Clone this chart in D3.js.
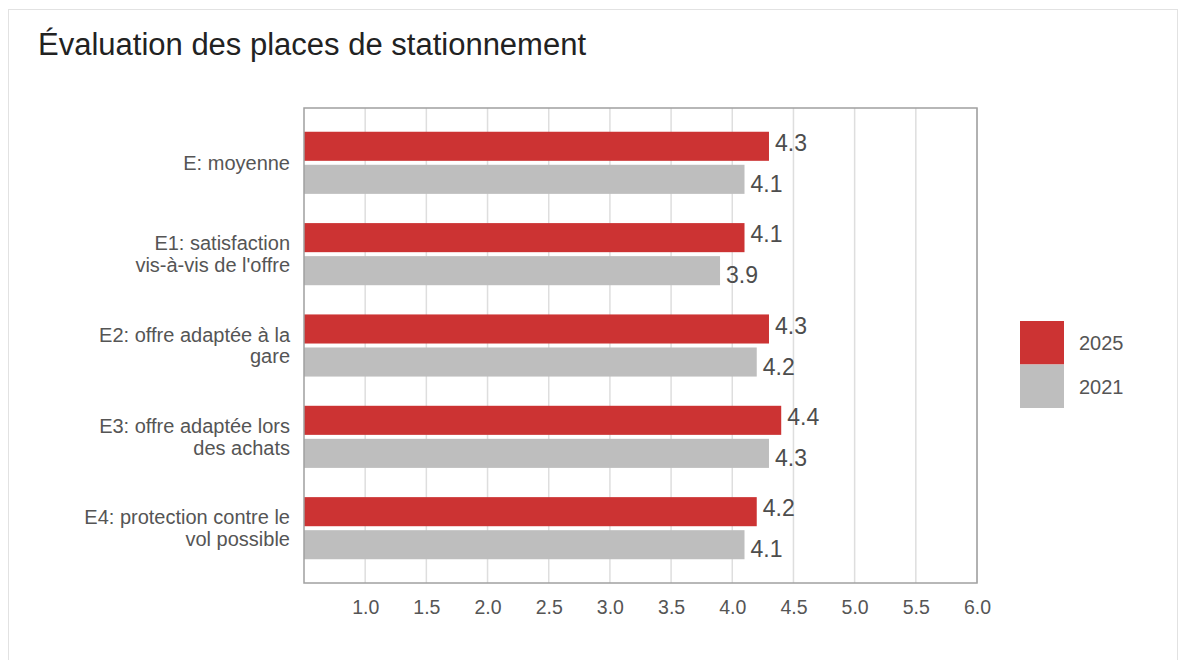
<!DOCTYPE html>
<html>
<head>
<meta charset="utf-8">
<script src="https://d3js.org/d3.v7.min.js"></script>
<style>
  body { margin: 0; background: #fff; }
  text { font-family: "Liberation Sans", Arial, sans-serif; }
</style>
</head>
<body>
<div id="chart"></div>
<script>
// data
var categories = [
  ["E: moyenne"],
  ["E1: satisfaction", "vis-à-vis de l'offre"],
  ["E2: offre adaptée à la", "gare"],
  ["E3: offre adaptée lors", "des achats"],
  ["E4: protection contre le", "vol possible"]
];
var years = ["2025", "2021"];
var values2025 = [4.3, 4.1, 4.3, 4.4, 4.2];
var values2021 = [4.1, 3.9, 4.2, 4.3, 4.1];
var xTicks = [1.0, 1.5, 2.0, 2.5, 3.0, 3.5, 4.0, 4.5, 5.0, 5.5, 6.0];
var colors = {"2025": "#cc3333", "2021": "#bebebe"};

var W = 1179, H = 660;
var plot = {left: 304, right: 977, top: 108, bottom: 583};

var svg = d3.select("#chart")
  .append("svg")
    .attr("width", W)
    .attr("height", H);

// outer frame
svg.append("rect")
  .attr("x", 8.5).attr("y", 9.5)
  .attr("width", 1169).attr("height", 670)
  .attr("fill", "none")
  .attr("stroke", "#e2e2e2");

// title
svg.append("text")
  .attr("x", 38).attr("y", 55)
  .attr("font-size", "31px")
  .attr("fill", "#222")
  .text("Évaluation des places de stationnement");

var keys = categories.map(function(d, i) { return "c" + i; });

var x = d3.scaleLinear()
  .domain([0.5, 6.0])
  .range([plot.left, plot.right]);

var y = d3.scaleBand()
  .domain(keys)
  .range([plot.top, plot.bottom])
  .paddingInner(0.32)
  .paddingOuter(0.26);

var y1 = d3.scaleBand()
  .domain(years)
  .range([0, y.bandwidth()])
  .paddingInner(0.12);

// grid lines
svg.selectAll(".grid")
  .data(xTicks)
  .enter()
  .append("line")
    .attr("x1", function(d) { return x(d); })
    .attr("x2", function(d) { return x(d); })
    .attr("y1", plot.top)
    .attr("y2", plot.bottom)
    .attr("stroke", "#dedede")
    .attr("stroke-width", 1.5);

// bars
var rows = [];
keys.forEach(function(k, i) {
  rows.push({key: k, year: "2025", value: values2025[i]});
  rows.push({key: k, year: "2021", value: values2021[i]});
});

svg.selectAll(".bar")
  .data(rows)
  .enter()
  .append("rect")
    .attr("x", x(0.5))
    .attr("y", function(d) { return y(d.key) + y1(d.year); })
    .attr("width", function(d) { return x(d.value) - x(0.5); })
    .attr("height", y1.bandwidth())
    .attr("fill", function(d) { return colors[d.year]; });

// value labels
svg.selectAll(".val")
  .data(rows)
  .enter()
  .append("text")
    .attr("x", function(d) { return x(d.value) + 6; })
    .attr("y", function(d) { return y(d.key) + y1(d.year) + y1.bandwidth() / 2; })
    .attr("dy", function(d) { return d.year == "2025" ? "0.2em" : "0.55em"; })
    .attr("font-size", "23px")
    .attr("fill", "#4d4d4d")
    .text(function(d) { return d3.format(".1f")(d.value); });

// plot border
svg.append("rect")
  .attr("x", plot.left).attr("y", plot.top)
  .attr("width", plot.right - plot.left)
  .attr("height", plot.bottom - plot.top)
  .attr("fill", "none")
  .attr("stroke", "#a0a0a0")
  .attr("stroke-width", 1.5);

// x axis
var xAxis = svg.append("g")
  .attr("transform", "translate(0," + plot.bottom + ")")
  .call(d3.axisBottom(x).tickValues(xTicks).tickSize(0).tickPadding(17).tickFormat(d3.format(".1f")));
xAxis.select(".domain").remove();
xAxis.selectAll("text")
  .attr("font-size", "19.5px")
  .attr("font-family", "Liberation Sans, Arial, sans-serif")
  .attr("fill", "#555");

// y labels (two lines where needed)
var lineH = 21.5;
var yLabels = svg.selectAll(".ylab")
  .data(categories)
  .enter()
  .append("text")
    .attr("text-anchor", "end")
    .attr("font-size", "20px")
    .attr("fill", "#555")
    .attr("transform", function(d, i) {
      var cy = y(keys[i]) + y.bandwidth() / 2;
      return "translate(290," + (cy - (d.length - 1) * lineH / 2) + ")";
    });
yLabels.selectAll("tspan")
  .data(function(d) { return d; })
  .enter()
  .append("tspan")
    .attr("x", 0)
    .attr("y", function(d, j) { return j * lineH; })
    .attr("dy", "0.35em")
    .text(function(d) { return d; });

// legend
var legend = svg.append("g").attr("transform", "translate(1020,321)");
legend.selectAll("rect")
  .data(years)
  .enter()
  .append("rect")
    .attr("x", 0)
    .attr("y", function(d, i) { return i * 43.5; })
    .attr("width", 44)
    .attr("height", 43.5)
    .attr("fill", function(d) { return colors[d]; });
legend.selectAll("text")
  .data(years)
  .enter()
  .append("text")
    .attr("x", 59)
    .attr("y", function(d, i) { return i * 43.5 + 22; })
    .attr("dy", "0.35em")
    .attr("font-size", "20px")
    .attr("fill", "#555")
    .text(function(d) { return d; });
</script>
</body>
</html>
